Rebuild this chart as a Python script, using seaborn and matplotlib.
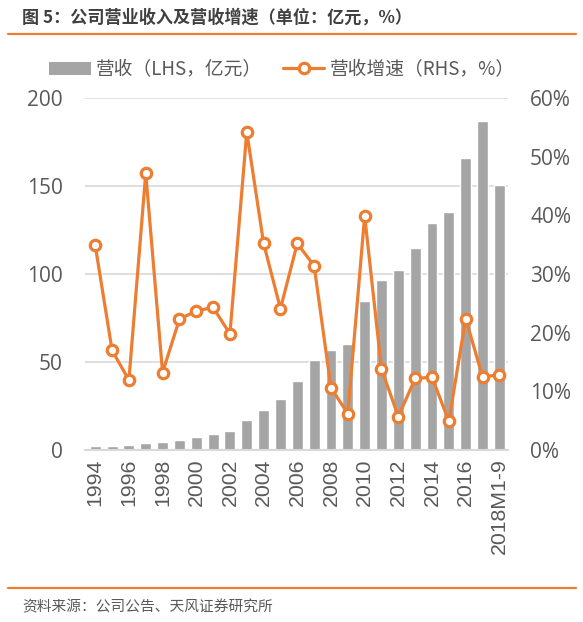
import numpy as np
import pandas as pd
import matplotlib
matplotlib.use("Agg")
import matplotlib.pyplot as plt
import seaborn as sns
from matplotlib.ticker import FuncFormatter
from matplotlib.lines import Line2D
from matplotlib.patches import Patch

sns.set_style("white")
plt.rcParams["font.family"] = ["Noto Sans CJK SC", "DejaVu Sans"]
plt.rcParams["axes.unicode_minus"] = False

# 数据
years = [str(y) for y in range(1994, 2018)] + ["2018M1-9"]
revenue = [2.0, 2.3, 2.6, 4.2, 4.8, 5.7, 7.2, 9.0, 10.8, 17.0, 23.0, 28.8, 39.0,
           51.0, 56.8, 60.2, 84.7, 96.6, 102.0, 114.6, 129.0, 135.0, 166.0, 186.7, 150.7]
growth = [34.9, 17.0, 11.9, 47.2, 13.2, 22.3, 23.7, 24.3, 19.8, 54.2, 35.2, 24.1, 35.2,
          31.4, 10.6, 6.2, 39.9, 13.8, 5.7, 12.2, 12.4, 4.9, 22.4, 12.5, 12.8]
tick_labels = [y if i % 2 == 0 else "" for i, y in enumerate(years)]

df = pd.DataFrame({"年份": years, "营收": revenue, "增速": growth})

GRAY = "#A5A5A5"
ORANGE = "#ED7D31"
TXT = "#595959"

fig = plt.figure(figsize=(5.83, 6.22), dpi=100)
ax = fig.add_axes([0.146, 0.2765, 0.725, 0.566])

sns.barplot(data=df, x="年份", y="营收", color=GRAY, width=0.65, saturation=1, ax=ax)
ax.set_ylim(0, 200)
ax.set_yticks([0, 50, 100, 150, 200])
ax.yaxis.grid(True, color="#D9D9D9", linewidth=1.2)
ax.set_axisbelow(True)
for s in ["top", "right", "left"]:
    ax.spines[s].set_visible(False)
ax.spines["bottom"].set_color("#D9D9D9")
ax.spines["bottom"].set_linewidth(1.5)
ax.set_xlabel("")
ax.set_ylabel("")
ax.set_xticks(range(len(years)))
ax.set_xticklabels(tick_labels, rotation=90, fontsize=15.3, color=TXT, family="Liberation Sans")
ax.tick_params(axis="x", length=0, pad=6)
ax.tick_params(axis="y", length=0, pad=16)
for lb in ax.get_yticklabels():
    lb.set_family("Open Sans")
    lb.set_fontsize(15)
    lb.set_color(TXT)

ax2 = ax.twinx()
sns.lineplot(x=np.arange(len(years)), y=growth, color=ORANGE, linewidth=2.3,
             marker="o", markersize=7.5, markerfacecolor="white",
             markeredgecolor=ORANGE, markeredgewidth=2.3, ax=ax2)
ax2.set_ylim(0, 60)
ax2.set_yticks([0, 10, 20, 30, 40, 50, 60])
ax2.yaxis.set_major_formatter(FuncFormatter(lambda v, p: f"{int(v)}%"))
for s in ["top", "right", "left", "bottom"]:
    ax2.spines[s].set_visible(False)
ax2.tick_params(axis="y", length=0, pad=16)
for lb in ax2.get_yticklabels():
    lb.set_family("Open Sans")
    lb.set_fontsize(15)
    lb.set_color(TXT)
ax.set_xlim(-0.6, len(years) - 0.5)

# 图例
handles = [Patch(facecolor=GRAY, edgecolor="none"),
           Line2D([0], [0], color=ORANGE, linewidth=2.3, marker="o", markersize=7.5,
                  markerfacecolor="white", markeredgecolor=ORANGE, markeredgewidth=2.3)]
leg = fig.legend(handles, ["营收（LHS，亿元）", "营收增速（RHS，%）"], loc="center",
                 bbox_to_anchor=(0.484, 0.888), ncol=2, frameon=False, fontsize=13.5,
                 handlelength=2.2, handleheight=0.75, handletextpad=0.3, columnspacing=1.1,
                 borderpad=0, borderaxespad=0)
for t in leg.get_texts():
    t.set_color(TXT)

# 标题与来源
fig.text(0.038, 0.971, "图 5：公司营业收入及营收增速（单位：亿元，%）", fontsize=12.3,
         fontweight="bold", color="#404040", va="center", ha="left")
fig.add_artist(Line2D([0.014, 0.988], [0.945, 0.945], color=ORANGE, linewidth=1.6))
fig.add_artist(Line2D([0.014, 0.988], [0.0547, 0.0547], color=ORANGE, linewidth=1.6))
fig.text(0.038, 0.024, "资料来源：公司公告、天风证券研究所", fontsize=10.6, color=TXT,
         va="center", ha="left")

fig.savefig("out.png", dpi=100)
